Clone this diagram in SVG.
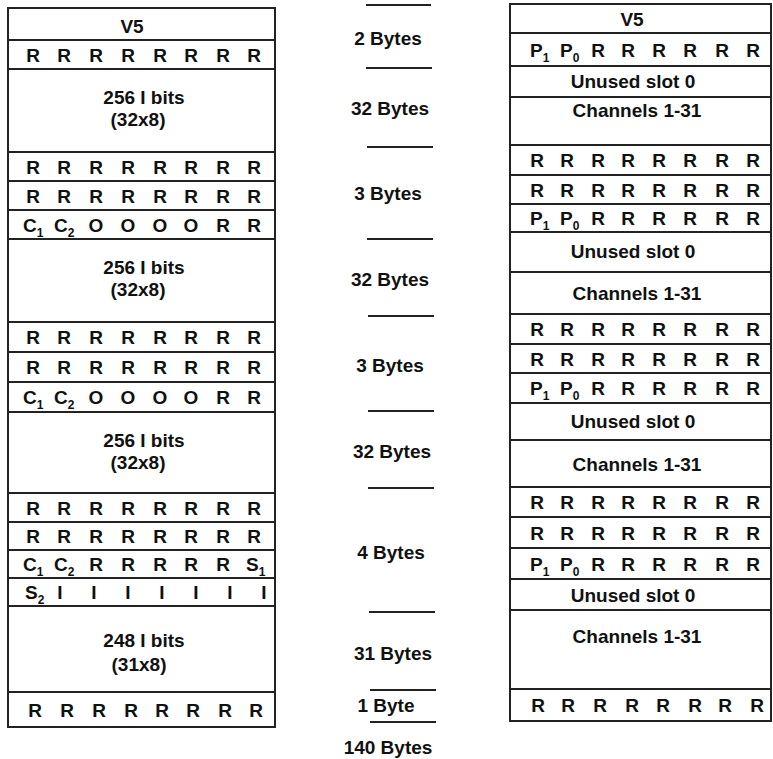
<svg xmlns="http://www.w3.org/2000/svg" width="773" height="759" viewBox="0 0 773 759">
<style>
.t{font-family:"Liberation Sans",Arial,Helvetica,sans-serif;font-weight:bold;font-size:19px;fill:#111;text-anchor:middle}
.s{font-family:"Liberation Sans",Arial,Helvetica,sans-serif;font-weight:bold;font-size:19px;fill:#111;text-anchor:start}
.sub{font-size:12px}
.box{fill:#fff;stroke:#222;stroke-width:2}
.tick{stroke:#222;stroke-width:2;fill:none}
</style>
<rect width="773" height="759" fill="#fff"/>
<g id="left">
<g id="L-v5"><rect class="box" x="8" y="8" width="267" height="32"/><text class="t" x="132" y="33">V5</text></g>
<g id="L-r1"><rect class="box" x="8" y="40" width="267" height="29"/>
<text class="t" x="33" y="62">R</text><text class="t" x="64" y="62">R</text><text class="t" x="96" y="62">R</text><text class="t" x="128" y="62">R</text><text class="t" x="160" y="62">R</text><text class="t" x="191" y="62">R</text><text class="t" x="223" y="62">R</text><text class="t" x="254" y="62">R</text></g>
<g id="L-sec1"><rect class="box" x="8" y="69" width="267" height="83"/><text class="t" x="144" y="104">256 I bits</text><text class="t" x="138" y="126">(32x8)</text></g>
<g id="L-r2"><rect class="box" x="8" y="152" width="267" height="29"/>
<text class="t" x="33" y="174">R</text><text class="t" x="64" y="174">R</text><text class="t" x="96" y="174">R</text><text class="t" x="128" y="174">R</text><text class="t" x="160" y="174">R</text><text class="t" x="191" y="174">R</text><text class="t" x="223" y="174">R</text><text class="t" x="254" y="174">R</text></g>
<g id="L-r3"><rect class="box" x="8" y="181" width="267" height="29"/>
<text class="t" x="33" y="203">R</text><text class="t" x="64" y="203">R</text><text class="t" x="96" y="203">R</text><text class="t" x="128" y="203">R</text><text class="t" x="160" y="203">R</text><text class="t" x="191" y="203">R</text><text class="t" x="223" y="203">R</text><text class="t" x="254" y="203">R</text></g>
<g id="L-c1"><rect class="box" x="8" y="210" width="267" height="29"/>
<text class="s" x="23" y="232">C<tspan class="sub" dy="5">1</tspan></text><text class="s" x="54" y="232">C<tspan class="sub" dy="5">2</tspan></text>
<text class="t" x="96" y="232">O</text><text class="t" x="128" y="232">O</text><text class="t" x="160" y="232">O</text><text class="t" x="191" y="232">O</text><text class="t" x="223" y="232">R</text><text class="t" x="254" y="232">R</text></g>
<g id="L-sec2"><rect class="box" x="8" y="239" width="267" height="83"/><text class="t" x="144" y="274">256 I bits</text><text class="t" x="138" y="296">(32x8)</text></g>
<g id="L-r4"><rect class="box" x="8" y="322" width="267" height="30"/>
<text class="t" x="33" y="344">R</text><text class="t" x="64" y="344">R</text><text class="t" x="96" y="344">R</text><text class="t" x="128" y="344">R</text><text class="t" x="160" y="344">R</text><text class="t" x="191" y="344">R</text><text class="t" x="223" y="344">R</text><text class="t" x="254" y="344">R</text></g>
<g id="L-r5"><rect class="box" x="8" y="352" width="267" height="30"/>
<text class="t" x="33" y="374">R</text><text class="t" x="64" y="374">R</text><text class="t" x="96" y="374">R</text><text class="t" x="128" y="374">R</text><text class="t" x="160" y="374">R</text><text class="t" x="191" y="374">R</text><text class="t" x="223" y="374">R</text><text class="t" x="254" y="374">R</text></g>
<g id="L-c2"><rect class="box" x="8" y="382" width="267" height="30"/>
<text class="s" x="23" y="404">C<tspan class="sub" dy="5">1</tspan></text><text class="s" x="54" y="404">C<tspan class="sub" dy="5">2</tspan></text>
<text class="t" x="96" y="404">O</text><text class="t" x="128" y="404">O</text><text class="t" x="160" y="404">O</text><text class="t" x="191" y="404">O</text><text class="t" x="223" y="404">R</text><text class="t" x="254" y="404">R</text></g>
<g id="L-sec3"><rect class="box" x="8" y="412" width="267" height="81"/><text class="t" x="144" y="447">256 I bits</text><text class="t" x="138" y="469">(32x8)</text></g>
<g id="L-r6"><rect class="box" x="8" y="493" width="267" height="29"/>
<text class="t" x="33" y="515">R</text><text class="t" x="64" y="515">R</text><text class="t" x="96" y="515">R</text><text class="t" x="128" y="515">R</text><text class="t" x="160" y="515">R</text><text class="t" x="191" y="515">R</text><text class="t" x="223" y="515">R</text><text class="t" x="254" y="515">R</text></g>
<g id="L-r7"><rect class="box" x="8" y="522" width="267" height="28"/>
<text class="t" x="33" y="543">R</text><text class="t" x="64" y="543">R</text><text class="t" x="96" y="543">R</text><text class="t" x="128" y="543">R</text><text class="t" x="160" y="543">R</text><text class="t" x="191" y="543">R</text><text class="t" x="223" y="543">R</text><text class="t" x="254" y="543">R</text></g>
<g id="L-c3"><rect class="box" x="8" y="550" width="267" height="28"/>
<text class="s" x="23" y="571">C<tspan class="sub" dy="5">1</tspan></text><text class="s" x="54" y="571">C<tspan class="sub" dy="5">2</tspan></text>
<text class="t" x="96" y="571">R</text><text class="t" x="128" y="571">R</text><text class="t" x="160" y="571">R</text><text class="t" x="191" y="571">R</text><text class="t" x="223" y="571">R</text><text class="s" x="246" y="571">S<tspan class="sub" dy="5">1</tspan></text></g>
<g id="L-s2"><rect class="box" x="8" y="578" width="267" height="28"/>
<text class="s" x="25" y="599">S<tspan class="sub" dy="5">2</tspan></text>
<text class="t" x="60" y="599">I</text><text class="t" x="94" y="599">I</text><text class="t" x="128" y="599">I</text><text class="t" x="162" y="599">I</text><text class="t" x="196" y="599">I</text><text class="t" x="230" y="599">I</text><text class="t" x="264" y="599">I</text></g>
<g id="L-sec4"><rect class="box" x="8" y="606" width="267" height="86"/><text class="t" x="144" y="647">248 I bits</text><text class="t" x="139" y="671">(31x8)</text></g>
<g id="L-r8"><rect class="box" x="8" y="692" width="267" height="35"/>
<text class="t" x="35" y="717">R</text><text class="t" x="67" y="717">R</text><text class="t" x="99" y="717">R</text><text class="t" x="131" y="717">R</text><text class="t" x="162" y="717">R</text><text class="t" x="193" y="717">R</text><text class="t" x="225" y="717">R</text><text class="t" x="256" y="717">R</text></g>
</g>
<g id="middle">
<g id="connectors">
<line class="tick" x1="366" y1="5" x2="431" y2="5"/>
<line class="tick" x1="366" y1="68" x2="432" y2="68"/>
<line class="tick" x1="367" y1="147" x2="433" y2="147"/>
<line class="tick" x1="367" y1="239" x2="433" y2="239"/>
<line class="tick" x1="368" y1="316" x2="434" y2="316"/>
<line class="tick" x1="368" y1="411" x2="434" y2="411"/>
<line class="tick" x1="368" y1="488" x2="434" y2="488"/>
<line class="tick" x1="369" y1="612" x2="435" y2="612"/>
<line class="tick" x1="370" y1="690" x2="436" y2="690"/>
<line class="tick" x1="370" y1="722" x2="436" y2="722"/>
</g>
<g id="labels">
<text class="t" x="388" y="45">2 Bytes</text>
<text class="t" x="390" y="115">32 Bytes</text>
<text class="t" x="388" y="200">3 Bytes</text>
<text class="t" x="390" y="286">32 Bytes</text>
<text class="t" x="390" y="372">3 Bytes</text>
<text class="t" x="392" y="458">32 Bytes</text>
<text class="t" x="391" y="559">4 Bytes</text>
<text class="t" x="393" y="660">31 Bytes</text>
<text class="t" x="386" y="712">1 Byte</text>
<text class="t" x="388" y="754">140 Bytes</text>
</g>
</g>
<g id="right">
<g id="R-v5"><rect class="box" x="510" y="4" width="261" height="29"/><text class="t" x="632" y="26">V5</text></g>
<g id="R-p1"><rect class="box" x="510" y="33" width="261" height="33"/>
<text class="s" x="530" y="57">P<tspan class="sub" dy="5">1</tspan></text><text class="s" x="560" y="57">P<tspan class="sub" dy="5">0</tspan></text>
<text class="t" x="598" y="57">R</text><text class="t" x="628" y="57">R</text><text class="t" x="659" y="57">R</text><text class="t" x="690" y="57">R</text><text class="t" x="722" y="57">R</text><text class="t" x="753" y="57">R</text></g>
<g id="R-u1"><rect class="box" x="510" y="66" width="261" height="31"/><text class="t" x="633" y="88">Unused slot 0</text></g>
<g id="R-ch1"><rect class="box" x="510" y="97" width="261" height="48"/><text class="t" x="637" y="117">Channels 1-31</text></g>
<g id="R-r1"><rect class="box" x="510" y="145" width="261" height="30"/>
<text class="t" x="537" y="167">R</text><text class="t" x="567" y="167">R</text><text class="t" x="598" y="167">R</text><text class="t" x="628" y="167">R</text><text class="t" x="659" y="167">R</text><text class="t" x="690" y="167">R</text><text class="t" x="722" y="167">R</text><text class="t" x="753" y="167">R</text></g>
<g id="R-r2"><rect class="box" x="510" y="175" width="261" height="29"/>
<text class="t" x="537" y="197">R</text><text class="t" x="567" y="197">R</text><text class="t" x="598" y="197">R</text><text class="t" x="628" y="197">R</text><text class="t" x="659" y="197">R</text><text class="t" x="690" y="197">R</text><text class="t" x="722" y="197">R</text><text class="t" x="753" y="197">R</text></g>
<g id="R-p2"><rect class="box" x="510" y="204" width="261" height="28"/>
<text class="s" x="530" y="225">P<tspan class="sub" dy="5">1</tspan></text><text class="s" x="560" y="225">P<tspan class="sub" dy="5">0</tspan></text>
<text class="t" x="598" y="225">R</text><text class="t" x="628" y="225">R</text><text class="t" x="659" y="225">R</text><text class="t" x="690" y="225">R</text><text class="t" x="722" y="225">R</text><text class="t" x="753" y="225">R</text></g>
<g id="R-u2"><rect class="box" x="510" y="232" width="261" height="40"/><text class="t" x="633" y="258">Unused slot 0</text></g>
<g id="R-ch2"><rect class="box" x="510" y="272" width="261" height="42"/><text class="t" x="637" y="300">Channels 1-31</text></g>
<g id="R-r3"><rect class="box" x="510" y="314" width="261" height="30"/>
<text class="t" x="537" y="336">R</text><text class="t" x="567" y="336">R</text><text class="t" x="598" y="336">R</text><text class="t" x="628" y="336">R</text><text class="t" x="659" y="336">R</text><text class="t" x="690" y="336">R</text><text class="t" x="722" y="336">R</text><text class="t" x="753" y="336">R</text></g>
<g id="R-r4"><rect class="box" x="510" y="344" width="261" height="29"/>
<text class="t" x="537" y="366">R</text><text class="t" x="567" y="366">R</text><text class="t" x="598" y="366">R</text><text class="t" x="628" y="366">R</text><text class="t" x="659" y="366">R</text><text class="t" x="690" y="366">R</text><text class="t" x="722" y="366">R</text><text class="t" x="753" y="366">R</text></g>
<g id="R-p3"><rect class="box" x="510" y="373" width="261" height="30"/>
<text class="s" x="530" y="395">P<tspan class="sub" dy="5">1</tspan></text><text class="s" x="560" y="395">P<tspan class="sub" dy="5">0</tspan></text>
<text class="t" x="598" y="395">R</text><text class="t" x="628" y="395">R</text><text class="t" x="659" y="395">R</text><text class="t" x="690" y="395">R</text><text class="t" x="722" y="395">R</text><text class="t" x="753" y="395">R</text></g>
<g id="R-u3"><rect class="box" x="510" y="403" width="261" height="37"/><text class="t" x="633" y="428">Unused slot 0</text></g>
<g id="R-ch3"><rect class="box" x="510" y="440" width="261" height="47"/><text class="t" x="637" y="471">Channels 1-31</text></g>
<g id="R-r5"><rect class="box" x="510" y="487" width="261" height="30"/>
<text class="t" x="537" y="509">R</text><text class="t" x="567" y="509">R</text><text class="t" x="598" y="509">R</text><text class="t" x="628" y="509">R</text><text class="t" x="659" y="509">R</text><text class="t" x="690" y="509">R</text><text class="t" x="722" y="509">R</text><text class="t" x="753" y="509">R</text></g>
<g id="R-r6"><rect class="box" x="510" y="517" width="261" height="31"/>
<text class="t" x="537" y="540">R</text><text class="t" x="567" y="540">R</text><text class="t" x="598" y="540">R</text><text class="t" x="628" y="540">R</text><text class="t" x="659" y="540">R</text><text class="t" x="690" y="540">R</text><text class="t" x="722" y="540">R</text><text class="t" x="753" y="540">R</text></g>
<g id="R-p4"><rect class="box" x="510" y="548" width="261" height="31"/>
<text class="s" x="530" y="571">P<tspan class="sub" dy="5">1</tspan></text><text class="s" x="560" y="571">P<tspan class="sub" dy="5">0</tspan></text>
<text class="t" x="598" y="571">R</text><text class="t" x="628" y="571">R</text><text class="t" x="659" y="571">R</text><text class="t" x="690" y="571">R</text><text class="t" x="722" y="571">R</text><text class="t" x="753" y="571">R</text></g>
<g id="R-u4"><rect class="box" x="510" y="579" width="261" height="31"/><text class="t" x="633" y="602">Unused slot 0</text></g>
<g id="R-ch4"><rect class="box" x="510" y="610" width="261" height="79"/><text class="t" x="637" y="643">Channels 1-31</text></g>
<g id="R-r7"><rect class="box" x="510" y="689" width="261" height="32"/>
<text class="t" x="538" y="712">R</text><text class="t" x="568" y="712">R</text><text class="t" x="600" y="712">R</text><text class="t" x="632" y="712">R</text><text class="t" x="663" y="712">R</text><text class="t" x="695" y="712">R</text><text class="t" x="725" y="712">R</text><text class="t" x="757" y="712">R</text></g>
</g>
</svg>
